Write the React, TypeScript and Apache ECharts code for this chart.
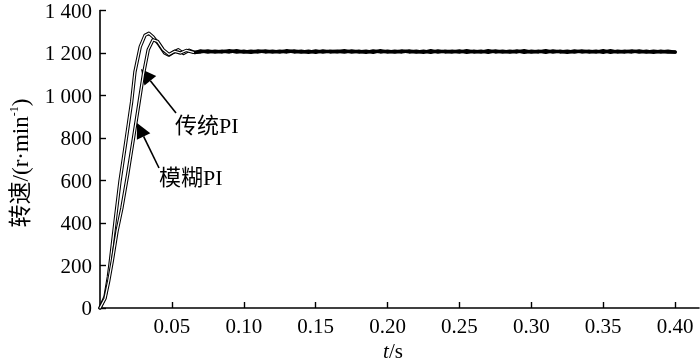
import React, { useEffect, useRef } from "react";
import * as echarts from "echarts";

// 传统PI (left curve) transient part
const tA = [0, 0.0035, 0.0058, 0.007, 0.0104, 0.0139, 0.018, 0.022, 0.0243, 0.028, 0.0313, 0.034, 0.037, 0.041, 0.045, 0.048, 0.051, 0.0545, 0.058, 0.062, 0.066];
const vA = [0, 53, 146, 208, 403, 597, 784, 971, 1111, 1230, 1283, 1293, 1275, 1240, 1200, 1190, 1203, 1215, 1198, 1213, 1202];
// 模糊PI (right curve) transient part
const tB = [0, 0.0035, 0.006, 0.0085, 0.0118, 0.0152, 0.0193, 0.0233, 0.027, 0.0302, 0.0335, 0.0369, 0.04, 0.044, 0.048, 0.052, 0.056, 0.06, 0.065];
const vB = [0, 45, 125, 220, 360, 470, 630, 800, 960, 1100, 1215, 1262, 1255, 1215, 1193, 1208, 1200, 1212, 1203];

// steady state
const steadyT = [
  0.07, 0.075, 0.08, 0.085, 0.09, 0.095, 0.1, 0.105, 0.11, 0.115,
  0.12, 0.125, 0.13, 0.135, 0.14, 0.145, 0.15, 0.155, 0.16, 0.165,
  0.17, 0.175, 0.18, 0.185, 0.19, 0.195, 0.2, 0.205, 0.21, 0.215,
  0.22, 0.225, 0.23, 0.235, 0.24, 0.245, 0.25, 0.255, 0.26, 0.265,
  0.27, 0.275, 0.28, 0.285, 0.29, 0.295, 0.3, 0.305, 0.31, 0.315,
  0.32, 0.325, 0.33, 0.335, 0.34, 0.345, 0.35, 0.355, 0.36, 0.365,
  0.37, 0.375, 0.38, 0.385, 0.39, 0.395, 0.4,
];
const steadyA = [
  1210, 1204, 1209, 1205, 1211, 1204, 1208, 1203, 1210, 1205,
  1209, 1204, 1211, 1205, 1208, 1203, 1210, 1204, 1209, 1206,
  1211, 1204, 1208, 1203, 1210, 1205, 1209, 1204, 1210, 1205,
  1208, 1203, 1211, 1204, 1209, 1205, 1210, 1203, 1208, 1204,
  1211, 1205, 1209, 1204, 1210, 1203, 1208, 1205, 1211, 1204,
  1209, 1203, 1210, 1205, 1208, 1204, 1211, 1203, 1209, 1205,
  1210, 1204, 1208, 1203, 1209, 1204, 1205,
];
const steadyB = [
  1205, 1210, 1204, 1209, 1205, 1211, 1204, 1208, 1205, 1210,
  1204, 1209, 1205, 1210, 1204, 1209, 1203, 1210, 1205, 1208,
  1204, 1210, 1205, 1209, 1203, 1211, 1204, 1208, 1205, 1210,
  1204, 1209, 1203, 1210, 1205, 1208, 1204, 1211, 1205, 1209,
  1203, 1210, 1204, 1208, 1205, 1211, 1204, 1209, 1203, 1210,
  1205, 1208, 1204, 1210, 1205, 1209, 1203, 1211, 1204, 1208,
  1205, 1210, 1204, 1209, 1205, 1208, 1204,
];

const xTicks = [0.05, 0.1, 0.15, 0.2, 0.25, 0.3, 0.35, 0.4];
const yTicks = [0, 200, 400, 600, 800, 1000, 1200, 1400];

const FONT = '"Liberation Serif", "Noto Sans CJK SC", serif';

function arrow(tail: number[], tip: number[], len: number, half: number) {
  const dx = tip[0] - tail[0];
  const dy = tip[1] - tail[1];
  const d = Math.sqrt(dx * dx + dy * dy);
  const ux = dx / d, uy = dy / d;
  const bx = tip[0] - ux * len, by = tip[1] - uy * len;
  const px = -uy * half, py = ux * half;
  return [
    { type: "line", shape: { x1: tail[0], y1: tail[1], x2: bx, y2: by }, style: { stroke: "#000", lineWidth: 1.6 } },
    { type: "polygon", shape: { points: [tip, [bx + px, by + py], [bx - px, by - py]] }, style: { fill: "#000" } },
  ];
}

export default function App() {
  const ref = useRef<HTMLDivElement>(null);
  useEffect(() => {
    const chart = echarts.init(ref.current!, undefined, { renderer: "svg" });
    const dataA = tA.map((t, i) => [t, vA[i]]).concat(steadyT.map((t, i) => [t, steadyA[i]]));
    const dataB = tB.map((t, i) => [t, vB[i]]).concat(steadyT.map((t, i) => [t, steadyB[i]]));
    const innerA = tA.map((t, i) => [t, vA[i]]);
    const innerB = tB.map((t, i) => [t, vB[i]]);
    const black = { color: "#000", width: 3.4, join: "round", cap: "round" };
    const white = { color: "#fff", width: 1.3, join: "round", cap: "round" };
    const line = (name: string, data: any, ls: any, z: number) => ({
      type: "line", name, data, showSymbol: false, symbol: "none", lineStyle: ls, z, silent: true,
    });
    chart.setOption({
      animation: false,
      grid: { left: 100, right: 1, top: 8, bottom: 55 },
      xAxis: {
        type: "value", min: 0, max: 0.4166,
        axisLine: { lineStyle: { color: "#000", width: 1.6 } },
        axisTick: { inside: true, length: 6, customValues: xTicks, lineStyle: { color: "#000", width: 1.4 } },
        axisLabel: {
          customValues: xTicks, margin: 7, color: "#000", fontSize: 21, fontFamily: FONT,
          formatter: (v: number) => v.toFixed(2),
        },
        splitLine: { show: false },
      },
      yAxis: {
        type: "value", min: 0, max: 1400, interval: 200,
        axisLine: { show: true, lineStyle: { color: "#000", width: 1.6 } },
        axisTick: { show: true, inside: true, length: 6, lineStyle: { color: "#000", width: 1.4 } },
        axisLabel: {
          customValues: yTicks, margin: 8, color: "#000", fontSize: 21, fontFamily: FONT,
          formatter: (v: number) => (v >= 1000 ? Math.floor(v / 1000) + " " + String(v % 1000).padStart(3, "0") : String(v)),
        },
        splitLine: { show: false },
      },
      series: [
        line("传统PI", dataA, black, 2),
        line("传统PI-inner", innerA, white, 3),
        line("模糊PI", dataB, black, 4),
        line("模糊PI-inner", innerB, white, 5),
      ],
      graphic: [
        ...arrow([176, 113], [141, 69], 15, 7.5),
        ...arrow([159, 168], [137, 123], 15, 7.5),
        { type: "text", x: 175, y: 125, style: { text: "传统PI", fill: "#000", font: `22px ${FONT}`, textAlign: "left", textVerticalAlign: "middle" } },
        { type: "text", x: 159, y: 177, style: { text: "模糊PI", fill: "#000", font: `22px ${FONT}`, textAlign: "left", textVerticalAlign: "middle" } },
        {
          type: "text", x: 393, y: 351,
          style: {
            text: "{i|t}{n|/s}", textAlign: "center", textVerticalAlign: "middle", fill: "#000",
            rich: {
              i: { fontFamily: FONT, fontSize: 21, fontStyle: "italic", fill: "#000" },
              n: { fontFamily: FONT, fontSize: 21, fill: "#000" },
            },
          },
        },
        {
          type: "text", x: 20, y: 163, rotation: Math.PI / 2,
          style: {
            text: "{a|转速/(r·min}{s|-1}{a|)}", textAlign: "center", textVerticalAlign: "middle", fill: "#000",
            rich: {
              a: { fontFamily: FONT, fontSize: 23, fill: "#000" },
              s: { fontFamily: FONT, fontSize: 12, fill: "#000", padding: [0, 0, 12, 0] },
            },
          },
        },
      ],
    });
    return () => chart.dispose();
  }, []);
  return <div ref={ref} style={{ position: "fixed", left: 0, top: 0, width: 700, height: 363 }} />;
}
